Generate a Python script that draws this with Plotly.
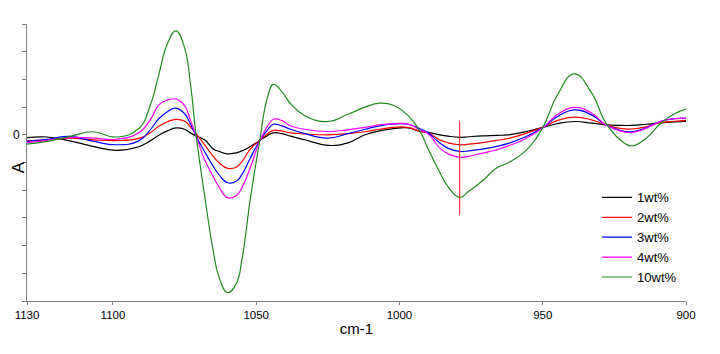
import plotly.graph_objects as go

wavenumber = [1130, 1123, 1115, 1107, 1099, 1091, 1087, 1084, 1081, 1078, 1075, 1073, 1071, 1068, 1065,
              1063, 1060, 1057, 1055, 1052, 1049, 1046, 1044, 1041, 1038, 1033, 1025, 1018, 1012, 1007,
              1002, 997, 993, 990, 986, 983, 979, 976, 971, 966, 962, 956, 950, 945, 939, 933, 928,
              923, 919, 914, 909, 904, 900]

wt1 = [-0.10, -0.08, -0.22, -0.42, -0.56, -0.43, -0.22, -0.02, 0.14, 0.25, 0.20, 0.07, -0.04, -0.18, -0.51,
       -0.60, -0.69, -0.65, -0.58, -0.42, -0.22, -0.02, 0.07, 0.04, -0.05, -0.18, -0.38, -0.29, 0.00, 0.14,
       0.22, 0.25, 0.13, 0.09, 0.00, -0.05, -0.09, -0.07, -0.04, -0.02, 0.00, 0.11, 0.27, 0.40, 0.48, 0.42, 0.36,
       0.34, 0.34, 0.38, 0.43, 0.47, 0.48]

wt2 = [-0.22, -0.18, -0.12, -0.18, -0.21, -0.13, 0.07, 0.31, 0.47, 0.56, 0.49, 0.29, 0.04, -0.36, -0.78,
       -1.01, -1.21, -1.17, -0.97, -0.51, -0.22, 0.04, 0.16, 0.13, 0.07, 0.03, 0.00, 0.04, 0.11, 0.20,
       0.27, 0.27, 0.13, 0.07, -0.18, -0.29, -0.36, -0.34, -0.28, -0.20, -0.13, 0.05, 0.27, 0.51, 0.64, 0.54, 0.36,
       0.23, 0.21, 0.29, 0.44, 0.49, 0.52]

wt3 = [-0.24, -0.16, -0.06, -0.23, -0.36, -0.22, 0.18, 0.58, 0.83, 0.96, 0.76, 0.40, -0.04, -0.61, -1.14,
       -1.44, -1.73, -1.68, -1.44, -0.83, -0.25, 0.18, 0.38, 0.32, 0.20, 0.04, -0.12, 0.04, 0.20, 0.32,
       0.39, 0.38, 0.23, 0.07, -0.29, -0.49, -0.60, -0.58, -0.52, -0.42, -0.31, -0.07, 0.25, 0.65, 0.90, 0.72, 0.36,
       0.16, 0.11, 0.25, 0.48, 0.58, 0.60]

wt4 = [-0.28, -0.21, -0.10, -0.12, -0.16, 0.07, 0.54, 1.08, 1.25, 1.29, 1.05, 0.54, -0.04, -0.90, -1.51,
       -1.88, -2.27, -2.20, -1.91, -1.16, -0.29, 0.32, 0.56, 0.51, 0.32, 0.20, 0.12, 0.18, 0.27, 0.36,
       0.40, 0.39, 0.18, 0.04, -0.47, -0.69, -0.81, -0.78, -0.66, -0.54, -0.40, -0.14, 0.25, 0.72, 0.99, 0.79, 0.36,
       0.14, 0.08, 0.23, 0.48, 0.58, 0.60]

wt10 = [-0.34, -0.24, -0.06, 0.11, -0.08, 0.23, 1.05, 2.17, 3.29, 3.75, 3.14, 1.88, 0.00, -2.20, -4.19,
        -5.13, -5.70, -5.38, -4.51, -2.27, -0.36, 1.38, 1.82, 1.55, 1.12, 0.69, 0.48, 0.74, 1.00, 1.14,
        1.06, 0.69, 0.16, -0.51, -1.34, -1.88, -2.26, -2.06, -1.66, -1.19, -1.01, -0.58, 0.26, 1.41, 2.20, 1.52, 0.43,
        -0.18, -0.40, -0.13, 0.40, 0.76, 0.93]

series_names = ["1wt%", "2wt%", "3wt%", "4wt%", "10wt%"]
series_values = [wt1, wt2, wt3, wt4, wt10]
series_colors = ["#000000", "#ff0000", "#0000ff", "#ff00ff", "#1f8a1f"]

cursor_x = [979, 979]
cursor_y = [0.5, -2.9]

x_ticks = [1130, 1100, 1050, 1000, 950, 900]
y_ticks = [-6, -5, -4, -3, -2, -1, 0, 1, 2, 3, 4]
y_ticklabels = ["", "", "", "", "", "", "0", "", "", "", ""]

fig = go.Figure()
for name, vals, col in zip(series_names, series_values, series_colors):
    fig.add_trace(go.Scatter(x=wavenumber, y=vals, mode="lines", name=name,
                             line=dict(color=col, width=1.2, shape="spline", smoothing=1.3)))

fig.add_trace(go.Scatter(x=cursor_x, y=cursor_y, mode="lines", showlegend=False,
                         line=dict(color="#ff2a2a", width=1.1)))

fig.update_layout(
    width=720, height=354,
    margin=dict(l=27, r=34, t=24, b=53),
    paper_bgcolor="white", plot_bgcolor="white",
    font=dict(family="Arial, 'Liberation Sans', sans-serif", color="#000000", size=11),
    showlegend=True,
    legend=dict(x=0.865, y=0.428, xanchor="left", yanchor="top",
                font=dict(size=13), bgcolor="rgba(0,0,0,0)", tracegroupgap=0),
    annotations=[dict(text="A", xref="paper", yref="paper", x=-0.013, y=0.484,
                      showarrow=False, textangle=-90, font=dict(size=17),
                      xanchor="center", yanchor="middle")],
)
fig.update_xaxes(range=[1130, 900], tickvals=x_ticks, ticks="outside", ticklen=3,
                 tickcolor="#808080", showline=True, linecolor="#808080", linewidth=1,
                 showgrid=False, zeroline=False, tickfont=dict(size=11.5),
                 title=dict(text="cm-1", font=dict(size=15), standoff=3))
fig.update_yaxes(range=[-6, 4], tickvals=y_ticks, ticktext=y_ticklabels, ticks="outside", ticklen=4,
                 tickcolor="#808080", showline=True, linecolor="#808080", linewidth=1,
                 showgrid=False, zeroline=False, tickfont=dict(size=12))

fig.write_html("out.html")
